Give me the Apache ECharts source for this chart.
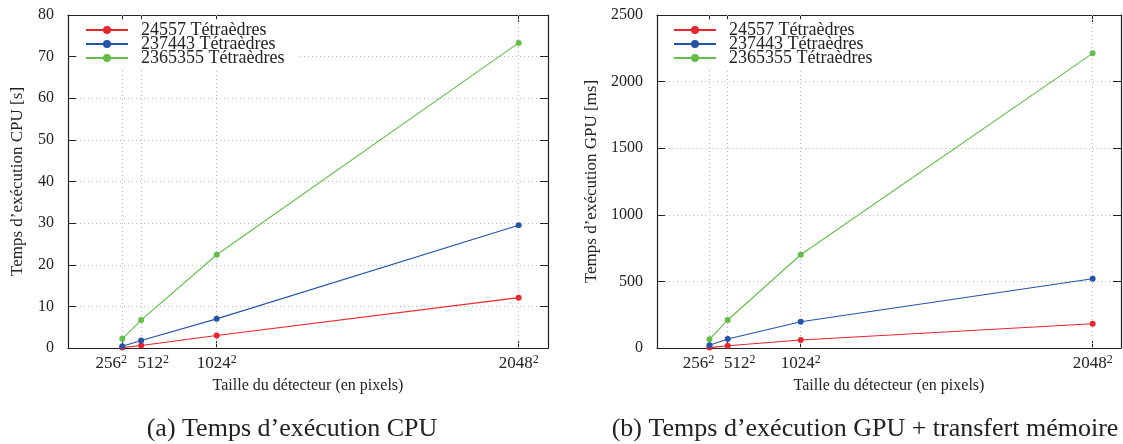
<!DOCTYPE html>
<html>
<head>
<meta charset="utf-8">
<script src="https://cdn.jsdelivr.net/npm/echarts@6/dist/echarts.min.js"></script>
<style>
html,body{margin:0;padding:0;background:#fff;}
#c{width:1123px;height:444px;}
</style>
</head>
<body>
<div id="c"></div>
<script>
// detector sizes (side, pixels) -> x value is side^2
const sizes = [256, 512, 1024, 2048];
const seriesNames = ['24557 Tétraèdres', '237443 Tétraèdres', '2365355 Tétraèdres'];
// CPU time [s]
const cpuRed = [0.1, 0.6, 3.0, 12.1];
const cpuBlue = [0.4, 1.8, 7.0, 29.5];
const cpuGreen = [2.2, 6.7, 22.4, 73.3];
// GPU + transfer time [ms]
const gpuRed = [3, 17, 60, 182];
const gpuBlue = [20, 68, 197, 520];
const gpuGreen = [65, 210, 700, 2212];

const colors = ['#e8262c', '#2553a8', '#62be46'];
const FONT = '"Liberation Serif", "DejaVu Serif", serif';
const xVals = sizes.map(s => s * s);
const XMIN = -500000, XMAX = 4500000;

function xLabel(v) {
  const i = xVals.indexOf(v);
  if (i < 0) return '';
  const s = '{b|' + sizes[i] + '}{s|2}';
  if (i === 0) return s + '{g1|}';
  if (i === 1) return '{g2|}' + s;
  return s;
}
const rich = {
  b: { fontFamily: FONT, fontSize: 17, color: '#222', lineHeight: 19 },
  s: { fontFamily: FONT, fontSize: 12, color: '#222', verticalAlign: 'top', lineHeight: 19, padding: [0, 0, 7, 0] },
  g1: { width: 22, lineHeight: 19 },
  g2: { width: 24, lineHeight: 19 }
};
const baseLine = { show: true, onZero: false, lineStyle: { color: '#222', width: 1.2 } };
const tick = (vals) => ({ show: true, inside: true, length: 7, customValues: vals, lineStyle: { color: '#222' } });

function labelAxis(gi, vals) {
  return {
    gridIndex: gi, type: 'value', min: XMIN, max: XMAX, position: 'bottom', offset: 0,
    axisLine: { show: false }, axisTick: { show: false }, splitLine: { show: false },
    axisLabel: { show: true, customValues: vals, formatter: xLabel, rich: rich, margin: 6,
      hideOverlap: false, showMinLabel: true, showMaxLabel: true }
  };
}
function xAxes(gi) {
  return [
    {
      gridIndex: gi, type: 'value', min: XMIN, max: XMAX, position: 'bottom',
      name: 'Taille du détecteur (en pixels)', nameLocation: 'middle', nameGap: 25,
      nameTextStyle: { fontFamily: FONT, fontSize: 16, color: '#222' },
      axisLine: baseLine,
      axisTick: tick(xVals),
      axisLabel: { show: true, customValues: xVals.slice(2), formatter: xLabel, rich: rich, margin: 6,
        hideOverlap: false, showMinLabel: true, showMaxLabel: true },
      splitLine: { show: false }
    },
    {
      gridIndex: gi, type: 'value', min: XMIN, max: XMAX, position: 'top',
      axisLine: baseLine,
      axisTick: tick(xVals),
      axisLabel: { show: false },
      splitLine: { show: false }
    },
    labelAxis(gi, [xVals[0]]),
    labelAxis(gi, [xVals[1]])
  ];
}
function yAxes(gi, max, interval, name, gap) {
  const t = { show: true, inside: true, length: 8, lineStyle: { color: '#222' } };
  return [
    {
      gridIndex: gi, type: 'value', min: 0, max: max, interval: interval, position: 'left',
      name: name, nameLocation: 'middle', nameGap: gap,
      nameTextStyle: { fontFamily: FONT, fontSize: 17, color: '#222' },
      axisLine: baseLine, axisTick: t,
      axisLabel: { fontFamily: FONT, fontSize: 16, color: '#222', margin: 14, formatter: v => String(v) },
      splitLine: { show: true, lineStyle: { type: [1, 3], color: '#bbb', width: 1 } }
    },
    {
      gridIndex: gi, type: 'value', min: 0, max: max, interval: interval, position: 'right',
      axisLine: baseLine, axisTick: t,
      axisLabel: { show: false },
      splitLine: { show: false }
    }
  ];
}

function mk(name, arr, xi, yi, color, withGrid) {
  const s = {
    name: name, type: 'line', xAxisIndex: xi, yAxisIndex: yi,
    data: arr.map((v, i) => [xVals[i], v]),
    symbol: 'circle', symbolSize: 6, showSymbol: true,
    lineStyle: { color: color, width: 1.1 },
    itemStyle: { color: color },
    animation: false, z: 3
  };
  if (withGrid) {
    s.markLine = {
      silent: true, symbol: 'none', animation: false, z: 1,
      label: { show: false },
      lineStyle: { type: [1, 3], color: '#bbb', width: 1 },
      data: xVals.map(v => ({ xAxis: v }))
    };
  }
  return s;
}

function legend(left) {
  return {
    show: true, orient: 'vertical', left: left, top: 20,
    backgroundColor: '#fff', padding: [1, 14, 1, 8],
    itemWidth: 42, itemHeight: 10, itemGap: -4,
    textStyle: { fontFamily: FONT, fontSize: 18, color: '#222', padding: [0, 0, 0, 8] },
    data: seriesNames, z: 5
  };
}

const chart = echarts.init(document.getElementById('c'), null, { renderer: 'canvas' });
const series = [];
const cpu = [cpuRed, cpuBlue, cpuGreen];
const gpu = [gpuRed, gpuBlue, gpuGreen];
for (let k = 0; k < 3; k++) series.push(mk(seriesNames[k], cpu[k], 0, 0, colors[k], k === 0));
for (let k = 0; k < 3; k++) series.push(mk(seriesNames[k], gpu[k], 4, 2, colors[k], k === 0));

chart.setOption({
  animation: false,
  backgroundColor: '#fff',
  grid: [
    { left: 68, top: 15, width: 480, height: 333, containLabel: false },
    { left: 657, top: 15, width: 464, height: 333, containLabel: false }
  ],
  xAxis: xAxes(0).concat(xAxes(1)),
  yAxis: yAxes(0, 80, 10, 'Temps d’exécution CPU [s]', 42).concat(yAxes(1, 2500, 500, 'Temps d’exécution GPU [ms]', 57)),
  legend: [legend(77), legend(665)],
  title: [
    { text: '(a) Temps d’exécution CPU', left: 287, top: 411, textAlign: 'center',
      textStyle: { fontFamily: FONT, fontSize: 26, fontWeight: 'normal', color: '#222' } },
    { text: '(b) Temps d’exécution GPU + transfert mémoire', left: 860, top: 411, textAlign: 'center',
      textStyle: { fontFamily: FONT, fontSize: 26, fontWeight: 'normal', color: '#222' } }
  ],
  series: series
});
</script>
</body>
</html>
